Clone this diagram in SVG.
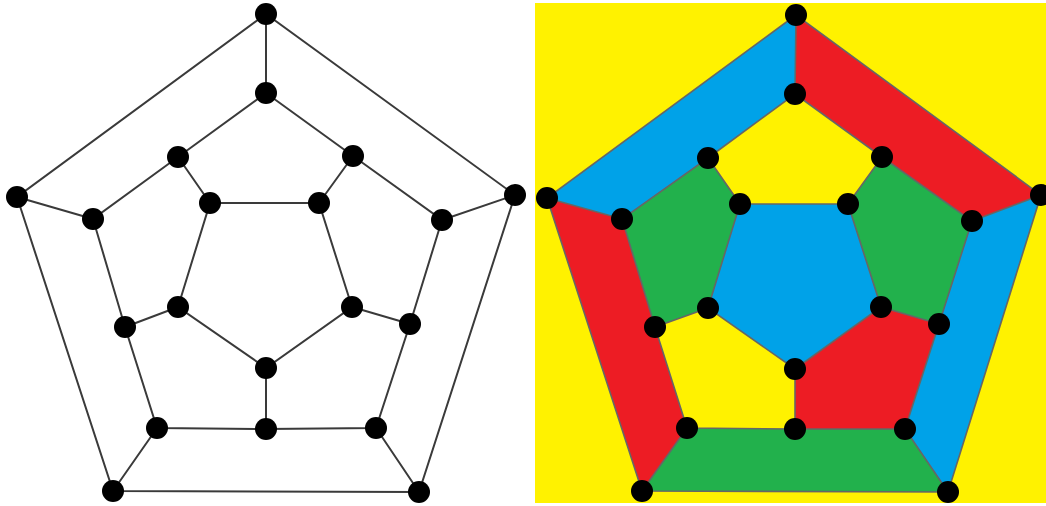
<svg xmlns="http://www.w3.org/2000/svg" width="1046" height="506" viewBox="0 0 1046 506">
<style>
.e{stroke:#3a3a3a;stroke-width:2;fill:none}
.e2{stroke:#666;stroke-width:1.6;fill:none}
.n{fill:#000}
.y{fill:#FFF200}.b{fill:#00A2E8}.r{fill:#ED1C24}.g{fill:#22B14C}
</style>
<rect width="1046" height="506" fill="#fff"/>
<g id="left-connectors">
<polygon class="e" points="266,14 17,197 113,491 419,492 515,195"/>
<polygon class="e" points="266,93 353,156 442,220 410,324 376,428 266,429 157,428 125,327 93,219 178,157"/>
<polygon class="e" points="210,203 319,203 352,307 266,368 178,307"/>
<path class="e" d="M266,14L266,93M17,197L93,219M113,491L157,428M419,492L376,428M515,195L442,220M178,157L210,203M353,156L319,203M410,324L352,307M266,429L266,368M125,327L178,307"/>
</g>
<g id="left-nodes">
<g id="L-O1"><circle class="n" cx="266" cy="14" r="11"/></g>
<g id="L-O2"><circle class="n" cx="17" cy="197" r="11"/></g>
<g id="L-O3"><circle class="n" cx="113" cy="491" r="11"/></g>
<g id="L-O4"><circle class="n" cx="419" cy="492" r="11"/></g>
<g id="L-O5"><circle class="n" cx="515" cy="195" r="11"/></g>
<g id="L-M1"><circle class="n" cx="266" cy="93" r="11"/></g>
<g id="L-M2"><circle class="n" cx="178" cy="157" r="11"/></g>
<g id="L-M3"><circle class="n" cx="93" cy="219" r="11"/></g>
<g id="L-M4"><circle class="n" cx="125" cy="327" r="11"/></g>
<g id="L-M5"><circle class="n" cx="157" cy="428" r="11"/></g>
<g id="L-M6"><circle class="n" cx="266" cy="429" r="11"/></g>
<g id="L-M7"><circle class="n" cx="376" cy="428" r="11"/></g>
<g id="L-M8"><circle class="n" cx="410" cy="324" r="11"/></g>
<g id="L-M9"><circle class="n" cx="442" cy="220" r="11"/></g>
<g id="L-M10"><circle class="n" cx="353" cy="156" r="11"/></g>
<g id="L-I1"><circle class="n" cx="210" cy="203" r="11"/></g>
<g id="L-I2"><circle class="n" cx="319" cy="203" r="11"/></g>
<g id="L-I3"><circle class="n" cx="352" cy="307" r="11"/></g>
<g id="L-I4"><circle class="n" cx="266" cy="368" r="11"/></g>
<g id="L-I5"><circle class="n" cx="178" cy="307" r="11"/></g>
</g>
<g id="right-faces">
<rect class="y" x="535" y="3" width="511" height="500"/>
<polygon class="b" points="796,15 547,198 622,219 708,158 795,94"/>
<polygon class="r" points="796,15 795,94 882,157 972,221 1041,195"/>
<polygon class="r" points="547,198 622,219 655,327 687,428 642,491"/>
<polygon class="b" points="1041,195 972,221 939,324 905,429 948,492"/>
<polygon class="g" points="642,491 687,428 795,429 905,429 948,492"/>
<polygon class="g" points="622,219 708,158 740,204 708,308 655,327"/>
<polygon class="g" points="882,157 972,221 939,324 881,307 848,204"/>
<polygon class="b" points="740,204 848,204 881,307 795,369 708,308"/>
<polygon class="r" points="881,307 939,324 905,429 795,429 795,369"/>
</g>
<g id="right-connectors">
<polygon class="e2" points="796,15 547,198 642,491 948,492 1041,195"/>
<polygon class="e2" points="795,94 882,157 972,221 939,324 905,429 795,429 687,428 655,327 622,219 708,158"/>
<polygon class="e2" points="740,204 848,204 881,307 795,369 708,308"/>
<path class="e2" d="M796,15L795,94M547,198L622,219M642,491L687,428M948,492L905,429M1041,195L972,221M708,158L740,204M882,157L848,204M939,324L881,307M795,429L795,369M655,327L708,308"/>
</g>
<g id="right-nodes">
<g id="R-O1"><circle class="n" cx="796" cy="15" r="11"/></g>
<g id="R-O2"><circle class="n" cx="547" cy="198" r="11"/></g>
<g id="R-O3"><circle class="n" cx="642" cy="491" r="11"/></g>
<g id="R-O4"><circle class="n" cx="948" cy="492" r="11"/></g>
<g id="R-O5"><circle class="n" cx="1041" cy="195" r="11"/></g>
<g id="R-M1"><circle class="n" cx="795" cy="94" r="11"/></g>
<g id="R-M2"><circle class="n" cx="708" cy="158" r="11"/></g>
<g id="R-M3"><circle class="n" cx="622" cy="219" r="11"/></g>
<g id="R-M4"><circle class="n" cx="655" cy="327" r="11"/></g>
<g id="R-M5"><circle class="n" cx="687" cy="428" r="11"/></g>
<g id="R-M6"><circle class="n" cx="795" cy="429" r="11"/></g>
<g id="R-M7"><circle class="n" cx="905" cy="429" r="11"/></g>
<g id="R-M8"><circle class="n" cx="939" cy="324" r="11"/></g>
<g id="R-M9"><circle class="n" cx="972" cy="221" r="11"/></g>
<g id="R-M10"><circle class="n" cx="882" cy="157" r="11"/></g>
<g id="R-I1"><circle class="n" cx="740" cy="204" r="11"/></g>
<g id="R-I2"><circle class="n" cx="848" cy="204" r="11"/></g>
<g id="R-I3"><circle class="n" cx="881" cy="307" r="11"/></g>
<g id="R-I4"><circle class="n" cx="795" cy="369" r="11"/></g>
<g id="R-I5"><circle class="n" cx="708" cy="308" r="11"/></g>
</g>
</svg>
